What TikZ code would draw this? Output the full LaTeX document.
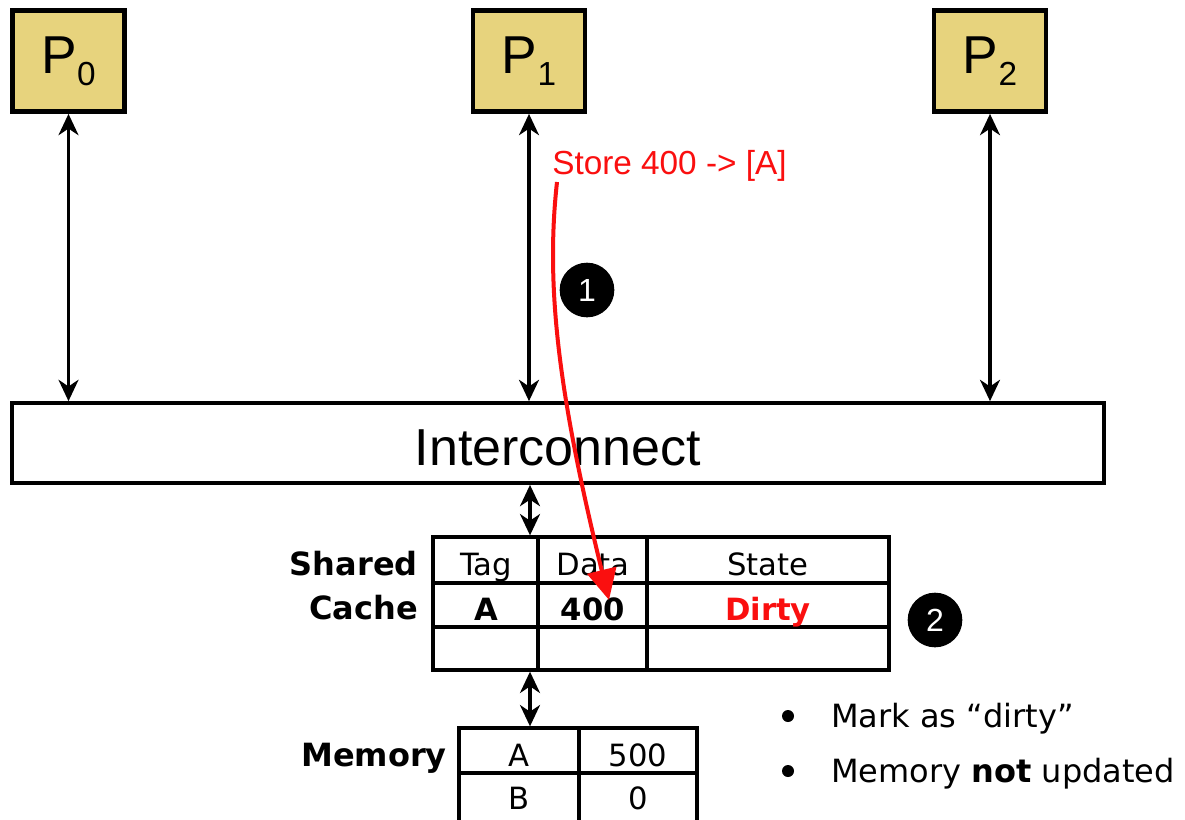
\documentclass[tikz,border=0pt]{standalone}
\usepackage{fontspec}
\setmainfont{Liberation Sans}
\newfontfamily\vfont{DejaVu Sans}
\usetikzlibrary{arrows.meta}
\definecolor{pfill}{RGB}{231,211,125}
\definecolor{redc}{RGB}{250,15,15}
\tikzset{
  pbox/.style={draw=black, line width=3.3pt, fill=pfill, minimum width=84pt, minimum height=76pt, inner sep=0pt},
  blkhead/.tip={Stealth[length=16pt,width=15pt,inset=5pt]},
  dbl/.style={line width=2.4pt, arrows={blkhead-blkhead}},
  tbl/.style={line width=2.5pt},
  tt/.style={font=\vfont\fontsize{23}{26}\selectfont, anchor=base, inner sep=0pt},
  tb/.style={font=\vfont\bfseries\fontsize{23}{26}\selectfont, anchor=base, inner sep=0pt},
  lbl/.style={font=\vfont\bfseries\fontsize{24}{28}\selectfont, anchor=base east, inner sep=0pt},
  step1/.style={circle, fill=black, minimum size=41pt, inner sep=0pt, text=white, font=\fontsize{24}{26}\selectfont},
  bul/.style={font=\vfont\fontsize{24}{28}\selectfont, anchor=base west, inner sep=0pt},
  redhead/.tip={Triangle[length=23pt,width=22pt]},
  redarrow/.style={redc, line width=3pt, arrows={-redhead}},
}
\newcommand{\Plabel}[1]{{\fontsize{40}{40}\selectfont P\raisebox{-0.22em}{\fontsize{25}{25}\selectfont #1}}}
\begin{document}
\begin{tikzpicture}[x=0.75pt,y=-0.75pt]
\clip (0,0) rectangle (1185,819);
\fill[white] (0,0) rectangle (1185,819);

% processors
\node[pbox] (p0) at (68.5,61) {\Plabel{0}};
\node[pbox] (p1) at (529,61) {\Plabel{1}};
\node[pbox] (p2) at (990,61) {\Plabel{2}};

% interconnect
\node[draw, line width=2.8pt, minimum width=819pt, minimum height=60pt, inner sep=0pt] (ic) at (558,443) {};
\node[anchor=base, inner sep=0pt, font=\fontsize{39}{42}\selectfont] (ictext) at (558,465) {Interconnect};

\draw[dbl] (p0.south) -- (p0.south |- ic.north);
\draw[dbl] (p1.south) -- (p1.south |- ic.north);
\draw[dbl] (p2.south) -- (p2.south |- ic.north);

% shared cache
\node[draw, tbl, minimum width=342pt, minimum height=99.75pt, inner sep=0pt] (cache) at (661,603.5) {};
\draw[tbl] (433,583) -- (889,583);
\draw[tbl] (433,627) -- (889,627);
\draw[tbl] (538,537) -- (538,670);
\draw[tbl] (647,537) -- (647,670);
\coordinate (cx) at (530,0);
\draw[dbl] (ic.south -| cx) -- (cache.north -| cx);

\node[tt] (tag) at (486,575) {Tag};
\node[tt] (data) at (593,575) {Data};
\node[tt] (state) at (768,575) {State};
\node[tb] (ca) at (486,620) {A};
\node[tb] (c400) at (593,620) {400};
\node[tb, text=redc] (dirty) at (768,620) {Dirty};

\node[lbl] (shared) at (418,575) {Shared};
\node[lbl] (cachelbl) at (418,619) {Cache};

% memory
\node[draw, tbl, minimum width=178.5pt, minimum height=72pt, inner sep=0pt] (mem) at (578,776) {};
\draw[tbl] (459,773) -- (697,773);
\draw[tbl] (579,728) -- (579,824);
\draw[dbl] (cache.south -| cx) -- (mem.north -| cx);
\node[tt] (ma) at (519,766) {A};
\node[tt] (m500) at (638,766) {500};
\node[tt] (mb) at (519,809) {B};
\node[tt] (m0) at (638,809) {0};
\node[lbl] (memlbl) at (447,766) {Memory};

% store operation
\node[anchor=base west, inner sep=0pt, text=redc, font=\fontsize{25}{28}\selectfont] (store) at (552,174) {Store 400 -> [A]};
\coordinate (st0) at (557,182);
\coordinate (st1) at (609,600);
\draw[redarrow] (st0) .. controls (545,290) and (560,400) .. (st1);

\node[step1] (s1) at (587,290) {1};
\node[step1] (s2) at (935,620) {2};

% bullets
\node[circle, fill=black, minimum size=9pt, inner sep=0pt] (b1) at (788,716) {};
\node[circle, fill=black, minimum size=9pt, inner sep=0pt] (b2) at (788,771) {};
\node[bul] (t1) at (831,727) {Mark as “dirty”};
\node[bul] (t2) at (831,782) {Memory \textbf{not} updated};
\end{tikzpicture}
\end{document}
